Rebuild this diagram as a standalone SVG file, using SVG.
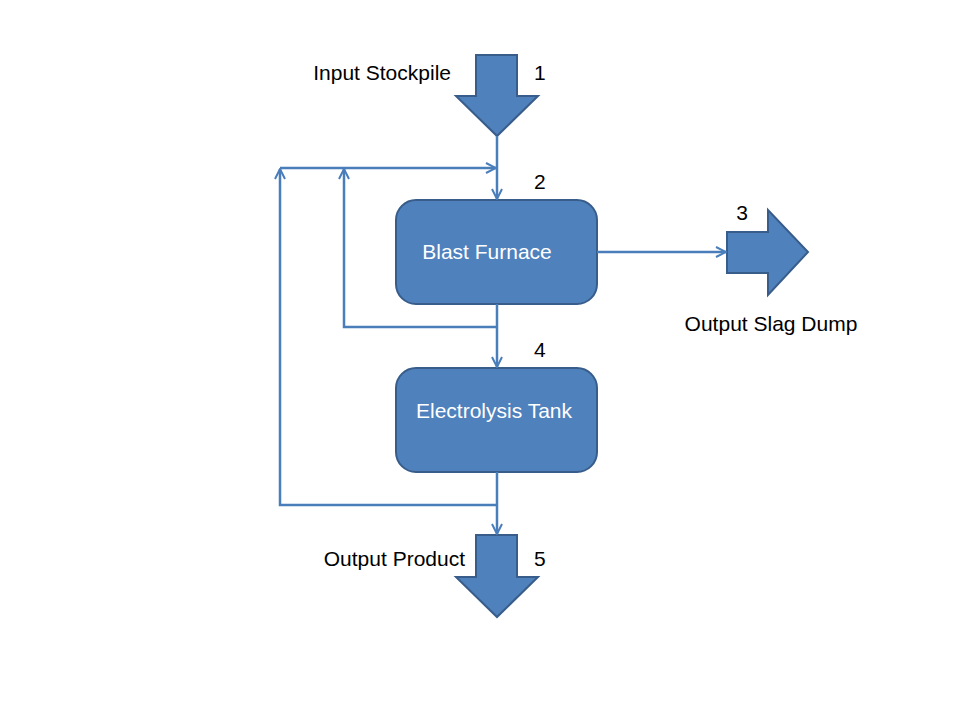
<svg xmlns="http://www.w3.org/2000/svg" width="960" height="720" viewBox="0 0 960 720">
<defs>
<style>
.blk{fill:#4F81BD;stroke:#385D8A;stroke-width:2}
.con{fill:none;stroke:#4A7EBB;stroke-width:2.5}
.lbl{font-family:"Liberation Sans",Arial,sans-serif;font-size:21px;fill:#000}
.wt{font-family:"Liberation Sans",Arial,sans-serif;font-size:21px;fill:#fff}
</style>
<marker id="ah" viewBox="0 0 10 10" refX="9" refY="5" markerWidth="5" markerHeight="5" orient="auto" markerUnits="strokeWidth">
<path d="M1,1 L9,5 L1,9" fill="none" stroke="#4A7EBB" stroke-width="1.6"/>
</marker>
</defs>
<rect width="960" height="720" fill="#fff"/>
<g id="input">
<path class="blk" d="M476,55 H517 V96 H538 L497,136 L456,96 H476 Z"/>
<text class="lbl" x="451" y="80" text-anchor="end">Input Stockpile</text>
<text class="lbl" x="534" y="80">1</text>
</g>
<g id="blast">
<rect class="blk" x="396" y="200" width="201" height="104" rx="20"/>
<text class="wt" x="487" y="259" text-anchor="middle">Blast Furnace</text>
</g>
<g id="electro">
<rect class="blk" x="396" y="368" width="201" height="104" rx="20"/>
<text class="wt" x="494" y="418" text-anchor="middle">Electrolysis Tank</text>
</g>
<g id="slag">
<path class="blk" d="M727,232 H768 V210 L808,252 L768,295 V273 H727 Z"/>
<text class="lbl" x="742" y="220" text-anchor="middle">3</text>
<text class="lbl" x="771" y="331" text-anchor="middle">Output Slag Dump</text>
</g>
<g id="product">
<path class="blk" d="M476,535 H517 V577 H538 L497,617 L456,577 H476 Z"/>
<text class="lbl" x="465" y="566" text-anchor="end">Output Product</text>
<text class="lbl" x="534" y="566">5</text>
</g>
<g id="labels">
<text class="lbl" x="534" y="189">2</text>
<text class="lbl" x="534" y="357">4</text>
</g>
<g id="connectors">
<path class="con" d="M497,136 V199" marker-end="url(#ah)"/>
<path class="con" d="M280,168 H496" marker-end="url(#ah)"/>
<path class="con" d="M497,304 V367" marker-end="url(#ah)"/>
<path class="con" d="M497,327 H344 V169" marker-end="url(#ah)"/>
<path class="con" d="M497,472 V534" marker-end="url(#ah)"/>
<path class="con" d="M497,505 H280 V169" marker-end="url(#ah)"/>
<path class="con" d="M597,252 H726" marker-end="url(#ah)"/>
</g>
</svg>
